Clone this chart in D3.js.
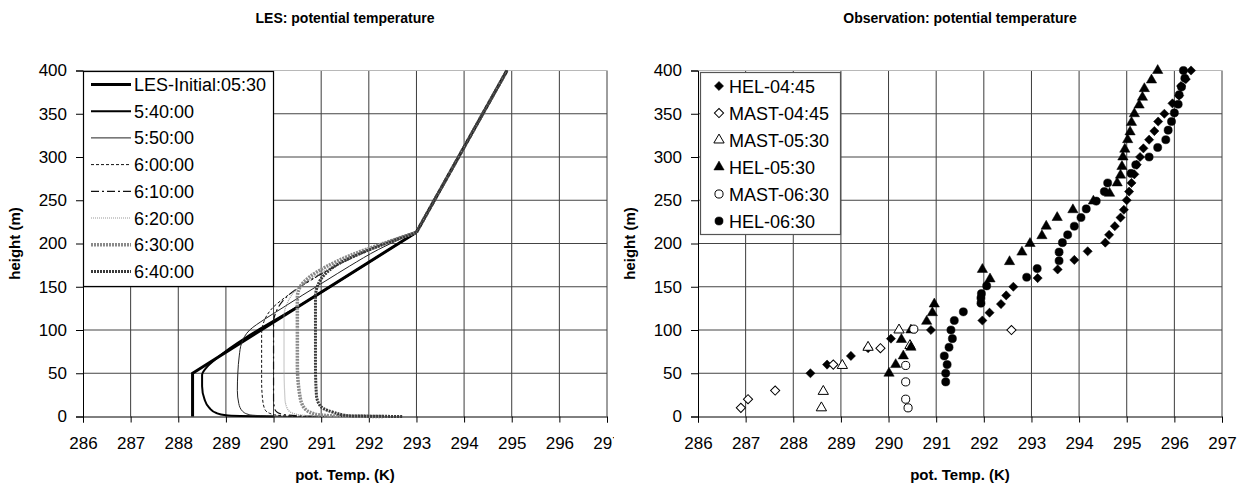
<!DOCTYPE html>
<html>
<head>
<meta charset="utf-8">
<script src="https://cdn.jsdelivr.net/npm/d3@7"></script>
<style>
  body { margin: 0; background: #fff; }
  svg { display: block; font-family: "Liberation Sans", Arial, sans-serif; }
</style>
</head>
<body>
<div id="chart"></div>
<script>
// ejes comunes
const tempTicks = [286, 287, 288, 289, 290, 291, 292, 293, 294, 295, 296, 297];
const heightTicks = [0, 50, 100, 150, 200, 250, 300, 350, 400];

// LES: perfiles [temp, altura]; todos se juntan en (293, 213) y siguen rectos hasta 400
const lesInitial = [[288.3, 0], [288.3, 50], [293.0, 213], [294.9, 400]];
const les0540 = [[290.0, 0], [289.3, 0.7], [289.0, 1.5], [288.8, 4], [288.65, 10], [288.55, 20], [288.5, 35], [288.5, 48], [288.6, 57], [288.8, 67], [290.9, 140], [293.0, 213], [294.9, 400]];
const les0550 = [[290.5, 0], [289.8, 0.8], [289.5, 2], [289.35, 6], [289.27, 15], [289.24, 30], [289.25, 50], [289.28, 70], [289.33, 85], [289.5, 100], [289.8, 112], [290.2, 126], [290.6, 140], [291.1, 157], [291.6, 174], [292.2, 193], [292.7, 206], [293.0, 213], [294.9, 400]];
const les0600 = [[291.0, 0], [290.2, 0.8], [289.95, 3], [289.82, 8], [289.77, 20], [289.75, 40], [289.75, 95], [289.8, 110], [289.97, 125], [290.3, 140], [290.8, 158], [291.3, 174], [291.8, 188], [292.4, 201], [293.0, 213], [294.9, 400]];
const les0610 = [[291.5, 0], [290.5, 0.8], [290.15, 3], [290.03, 8], [290.0, 20], [290.0, 108], [290.06, 122], [290.25, 137], [290.6, 152], [291.1, 168], [291.6, 182], [292.3, 199], [293.0, 213], [294.9, 400]];
const les0620 = [[292.0, 0], [290.8, 0.8], [290.45, 3], [290.3, 8], [290.24, 20], [290.22, 60], [290.22, 116], [290.28, 130], [290.45, 145], [290.75, 158], [291.2, 172], [291.7, 185], [292.4, 200], [293.0, 213], [294.9, 400]];
const les0630 = [[292.3, 0], [291.2, 0.8], [290.85, 3], [290.63, 11], [290.55, 25], [290.5, 60], [290.5, 138], [290.56, 150], [290.75, 161], [291.1, 173], [291.6, 186], [292.3, 200], [293.0, 213], [294.9, 400]];
const les0640 = [[292.7, 0], [291.6, 0.8], [291.25, 5], [290.97, 13], [290.9, 25], [290.88, 60], [290.88, 138], [290.93, 152], [291.07, 164], [291.35, 176], [291.8, 188], [292.4, 201], [293.0, 213], [294.9, 400]];

const lesNames = ["LES-Initial:05:30", "5:40:00", "5:50:00", "6:00:00", "6:10:00", "6:20:00", "6:30:00", "6:40:00"];
const lesSeries = [lesInitial, les0540, les0550, les0600, les0610, les0620, les0630, les0640];
const lesStyles = [
  { color: "#000", width: 3, dash: null },
  { color: "#000", width: 2, dash: null },
  { color: "#222", width: 1, dash: null },
  { color: "#111", width: 1, dash: "3,2" },
  { color: "#111", width: 1.2, dash: "8,3,2,3" },
  { color: "#999", width: 1.2, dash: "1,1" },
  { color: "#8a8a8a", width: 3.5, dash: "2,1" },
  { color: "#3a3a3a", width: 3, dash: "2,1" }
];

// Observaciones [temp, altura]
const hel0445 = [[288.36, 50], [288.71, 60], [289.21, 70], [289.57, 79], [290.05, 90], [290.89, 100], [291.97, 111], [292.12, 120], [292.36, 130], [292.47, 140], [292.62, 150], [293.13, 160], [293.55, 170], [293.9, 181], [294.18, 191], [294.55, 201], [294.63, 210], [294.75, 220], [294.87, 230], [294.94, 239], [295.0, 250], [295.05, 260], [295.1, 270], [295.16, 280], [295.21, 291], [295.28, 300], [295.35, 310], [295.47, 320], [295.58, 330], [295.66, 341], [295.79, 350], [295.96, 362], [296.1, 371], [296.14, 382], [296.24, 390], [296.35, 400]];
const mast0445 = [[286.9, 10], [287.05, 20], [287.62, 30], [288.84, 60], [289.83, 79], [292.58, 100]];
const mast0530 = [[288.59, 10], [288.63, 29], [289.03, 59], [289.57, 80], [290.22, 100], [290.45, 82]];
const hel0530 = [[290.01, 50], [290.15, 60], [290.31, 70], [290.47, 80], [290.27, 89], [290.47, 100], [290.8, 110], [290.92, 120], [290.96, 130], [292.13, 159], [291.97, 170], [292.54, 179], [292.8, 190], [292.97, 200], [293.22, 209], [293.31, 220], [293.54, 230], [293.87, 239], [294.3, 249], [294.64, 258], [294.8, 270], [294.87, 279], [294.9, 289], [294.92, 300], [294.96, 309], [295.02, 320], [295.07, 329], [295.1, 340], [295.16, 350], [295.26, 360], [295.33, 369], [295.37, 379], [295.52, 389], [295.65, 400]];
const mast0630 = [[290.41, 10], [290.36, 20], [290.36, 40], [290.36, 59], [290.53, 101]];
const hel0630 = [[291.2, 40], [291.2, 50], [291.23, 60], [291.17, 70], [291.27, 80], [291.34, 90], [291.31, 100], [291.38, 111], [291.57, 121], [291.94, 131], [291.94, 137], [291.95, 142], [292.06, 151], [292.9, 161], [293.12, 171], [293.58, 180], [293.58, 190], [293.65, 201], [293.76, 210], [293.9, 220], [294.04, 230], [294.15, 240], [294.36, 249], [294.53, 260], [294.6, 270], [295.09, 281], [295.19, 291], [295.47, 300], [295.65, 311], [295.82, 320], [295.87, 331], [295.94, 341], [296.0, 351], [296.08, 361], [296.1, 372], [296.15, 381], [296.22, 391], [296.19, 400]];

const obsNames = ["HEL-04:45", "MAST-04:45", "MAST-05:30", "HEL-05:30", "MAST-06:30", "HEL-06:30"];
const obsSeries = [hel0445, mast0445, mast0530, hel0530, mast0630, hel0630];
const obsMarkers = [
  { type: "diamond", fill: "#000" },
  { type: "diamond", fill: "#fff" },
  { type: "triangle", fill: "#fff" },
  { type: "triangle", fill: "#000" },
  { type: "circle", fill: "#fff" },
  { type: "circle", fill: "#000" }
];

////////////////////////////////////////////////////////////////////////
const W = 1243, H = 488;
const svg = d3.select("#chart").append("svg")
  .attr("width", W)
  .attr("height", H);

svg.append("rect").attr("width", W).attr("height", H).attr("fill", "#fff");

const yTop = 70.5, yBottom = 416.5;

function drawFrame(g, x, y, title) {
  // rejilla
  g.append("g").selectAll("line")
    .data(tempTicks.slice(1))
    .enter().append("line")
    .attr("x1", d => x(d)).attr("x2", d => x(d))
    .attr("y1", yTop).attr("y2", yBottom)
    .attr("stroke", "#3c3c3c").attr("stroke-width", 1);
  g.append("g").selectAll("line")
    .data(heightTicks.slice(1))
    .enter().append("line")
    .attr("x1", x.range()[0]).attr("x2", x.range()[1])
    .attr("y1", d => y(d)).attr("y2", d => y(d))
    .attr("stroke", d => d === 400 ? "#b8b8b8" : "#444").attr("stroke-width", 1);

  // ejes
  const xAxis = g.append("g")
    .attr("transform", "translate(0," + yBottom + ")")
    .call(d3.axisBottom(x).tickValues(tempTicks).tickSize(6).tickPadding(14).tickFormat(d3.format("d")));
  const yAxis = g.append("g")
    .attr("transform", "translate(" + x.range()[0] + ",0)")
    .call(d3.axisLeft(y).tickValues(heightTicks).tickSize(7).tickPadding(9));
  [xAxis, yAxis].forEach(a => {
    a.select(".domain").attr("stroke", "#000");
    a.selectAll(".tick line").attr("stroke", "#000");
    a.selectAll("text")
      .attr("fill", "#000")
      .style("font-size", "17px")
      .style("font-family", "'Liberation Sans', Arial, sans-serif");
  });

  const cx = (x.range()[0] + x.range()[1]) / 2;
  g.append("text")
    .attr("x", cx).attr("y", 23)
    .attr("text-anchor", "middle")
    .style("font-weight", "bold").style("font-size", "14px")
    .text(title);
  g.append("text")
    .attr("x", cx).attr("y", 480)
    .attr("text-anchor", "middle")
    .style("font-weight", "bold").style("font-size", "15px")
    .text("pot. Temp. (K)");
  g.append("text")
    .attr("transform", "translate(" + (x.range()[0] - 63) + "," + (yTop + yBottom) / 2 + ") rotate(-90)")
    .attr("text-anchor", "middle")
    .style("font-weight", "bold").style("font-size", "15px")
    .text("height (m)");
}

////////////////////////////////////////////////////////////////////////
// Gráfico izquierdo: LES
svg.append("clipPath").attr("id", "leftClip")
  .append("rect").attr("x", 0).attr("y", 0).attr("width", 614).attr("height", H);
const gL = svg.append("g").attr("clip-path", "url(#leftClip)");
const xL = d3.scaleLinear().domain([286, 297]).range([83, 607]);
const yL = d3.scaleLinear().domain([0, 400]).range([yBottom, yTop]);
drawFrame(gL, xL, yL, "LES: potential temperature");

// parte baja suavizada (monótona en altura), parte alta recta
const lineCurve = d3.line()
  .x(d => xL(d[0]))
  .y(d => yL(d[1]))
  .curve(d3.curveMonotoneY);
const lineStraight = d3.line().x(d => xL(d[0])).y(d => yL(d[1]));

function drawProfile(data, style, straight) {
  const k = data.findIndex(d => d[0] === 293.0);
  const parts = [
    { pts: data.slice(0, k + 1), gen: straight ? lineStraight : lineCurve },
    { pts: data.slice(k), gen: lineStraight }
  ];
  parts.forEach(p => {
    gL.append("path")
      .datum(p.pts)
      .attr("d", p.gen)
      .attr("fill", "none")
      .attr("stroke", style.color)
      .attr("stroke-width", style.width)
      .attr("stroke-dasharray", style.dash);
  });
}

lesSeries.forEach((data, i) => drawProfile(data, lesStyles[i], i === 0));

// leyenda LES
const legL = gL.append("g");
legL.append("rect")
  .attr("x", 83.5).attr("y", 71.5).attr("width", 190).attr("height", 215)
  .attr("fill", "#fff").attr("stroke", "#000").attr("stroke-width", 1.2);
lesNames.forEach((name, i) => {
  const cy = 84.5 + i * 26.7;
  legL.append("line")
    .attr("x1", 91).attr("x2", 131).attr("y1", cy).attr("y2", cy)
    .attr("stroke", lesStyles[i].color)
    .attr("stroke-width", lesStyles[i].width)
    .attr("stroke-dasharray", lesStyles[i].dash);
  legL.append("text")
    .attr("x", 134).attr("y", cy + 6.5)
    .style("font-size", "18px")
    .text(name);
});

////////////////////////////////////////////////////////////////////////
// Gráfico derecho: observaciones
const gR = svg.append("g");
const xR = d3.scaleLinear().domain([286, 297]).range([698, 1222]);
const yR = d3.scaleLinear().domain([0, 400]).range([yBottom, yTop]);
drawFrame(gR, xR, yR, "Observation: potential temperature");

const symbolFor = {
  diamond: d3.symbol().type(d3.symbolSquare).size(42),
  triangle: d3.symbol().type(d3.symbolTriangle).size(46),
  circle: d3.symbol().type(d3.symbolCircle).size(52)
};
const rotFor = { diamond: 45, triangle: 0, circle: 0 };

obsSeries.forEach((data, i) => {
  const m = obsMarkers[i];
  gR.append("g").selectAll("path")
    .data(data)
    .enter().append("path")
    .attr("d", symbolFor[m.type])
    .attr("transform", d => "translate(" + xR(d[0]) + "," + yR(d[1]) + ") rotate(" + rotFor[m.type] + ")")
    .attr("fill", m.fill)
    .attr("stroke", "#000")
    .attr("stroke-width", m.fill === "#000" ? 0.5 : 1);
});

// leyenda observaciones
const legR = gR.append("g");
legR.append("rect")
  .attr("x", 700.5).attr("y", 72.5).attr("width", 140).attr("height", 162)
  .attr("fill", "#fff").attr("stroke", "#555").attr("stroke-width", 1.2);
obsNames.forEach((name, i) => {
  const cy = 86 + i * 27;
  const m = obsMarkers[i];
  legR.append("path")
    .attr("d", symbolFor[m.type])
    .attr("transform", "translate(719," + cy + ") rotate(" + rotFor[m.type] + ")")
    .attr("fill", m.fill)
    .attr("stroke", "#000")
    .attr("stroke-width", m.fill === "#000" ? 0.5 : 1);
  legR.append("text")
    .attr("x", 729).attr("y", cy + 6.5)
    .style("font-size", "18px")
    .text(name);
});
</script>
</body>
</html>
